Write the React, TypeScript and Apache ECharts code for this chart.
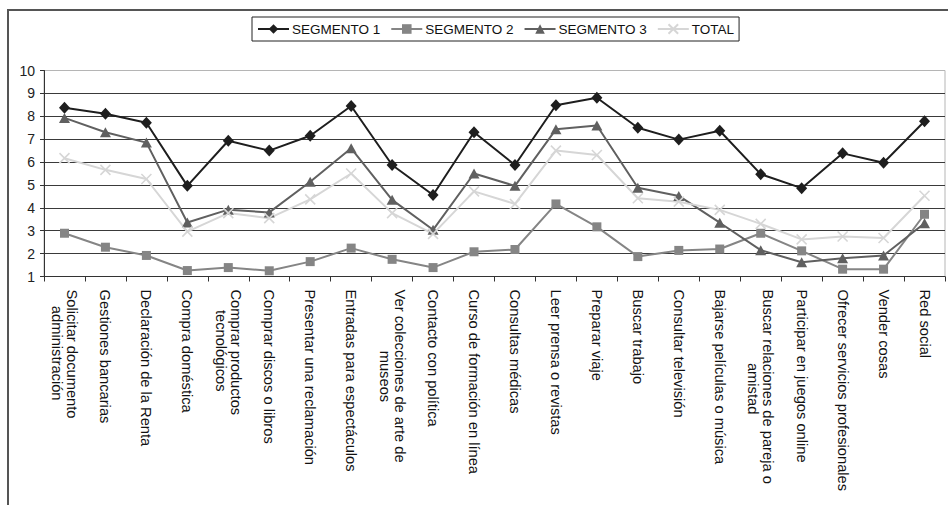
import React, { useEffect, useRef } from "react";
import * as echarts from "echarts";

// Online activities (x axis), one line per segment plus the overall total
const categories: string[] = [
  "Solicitar documento\nadministración",
  "Gestiones bancarias",
  "Declaración de la Renta",
  "Compra doméstica",
  "Comprar productos\ntecnológicos",
  "Comprar discos o libros",
  "Presentar una reclamación",
  "Entradas para espectáculos",
  "Ver colecciones de arte de\nmuseos",
  "Contacto con política",
  "Curso de formación en línea",
  "Consultas médicas",
  "Leer prensa o revistas",
  "Preparar viaje",
  "Buscar trabajo",
  "Consultar televisión",
  "Bajarse películas o música",
  "Buscar relaciones de pareja o\namistad",
  "Participar en juegos online",
  "Ofrecer servicios profesionales",
  "Vender cosas",
  "Red social",
];

const segmento1: number[] = [
  8.37, 8.11, 7.72, 4.96, 6.93, 6.5, 7.15, 8.45, 5.87, 4.56, 7.3, 5.87, 8.48,
  8.81, 7.5, 6.98, 7.37, 5.47, 4.86, 6.38, 5.97, 7.78,
];
const segmento2: number[] = [
  2.89, 2.28, 1.92, 1.26, 1.39, 1.25, 1.65, 2.24, 1.75, 1.39, 2.08, 2.18, 4.17,
  3.17, 1.87, 2.14, 2.2, 2.89, 2.12, 1.32, 1.32, 3.72,
];
const segmento3: number[] = [
  7.93, 7.3, 6.85, 3.36, 3.92, 3.8, 5.14, 6.6, 4.35, 3.04, 5.5, 4.96, 7.43,
  7.6, 4.88, 4.52, 3.35, 2.15, 1.62, 1.8, 1.92, 3.33,
];
const total: number[] = [
  6.17, 5.66, 5.26, 2.96, 3.77, 3.55, 4.37, 5.5, 3.77, 2.86, 4.72, 4.17, 6.5,
  6.31, 4.42, 4.27, 3.91, 3.3, 2.62, 2.75, 2.68, 4.53,
];

const seriesNames: string[] = ["SEGMENTO 1", "SEGMENTO 2", "SEGMENTO 3", "TOTAL"];

const FONT = "'Liberation Sans', Arial, sans-serif";
const LABEL_SIZE = 14.7;
const CROSS = "path://M0,0L10,10M10,0L0,10";

// Wrapped category labels: each line is centred inside the label block by
// indenting the shorter lines with non-breaking spaces (widths measured).
function centredLabels(): string[] {
  const ctx = document.createElement("canvas").getContext("2d");
  if (!ctx) return categories;
  ctx.font = `${LABEL_SIZE}px 'Liberation Sans', Arial, sans-serif`;
  const nb = "\u00a0";
  const spaceW = ctx.measureText(nb).width || LABEL_SIZE * 0.278;
  return categories.map((cat) => {
    const lines = cat.split("\n");
    if (lines.length === 1) return cat;
    const widths = lines.map((l) => ctx.measureText(l).width);
    const maxW = Math.max(...widths);
    return lines
      .map((l, j) => nb.repeat(Math.round((maxW - widths[j]) / 2 / spaceW)) + l)
      .join("\n");
  });
}

export default function App() {
  const ref = useRef<HTMLDivElement>(null);

  useEffect(() => {
    if (!ref.current) return;
    const chart = echarts.init(ref.current, undefined, { renderer: "svg" });
    const labelText = centredLabels();

    const lineSeries = (
      name: string,
      data: number[],
      color: string,
      symbol: string,
      symbolSize: number | number[],
      stroked = false
    ) => ({
      name,
      type: "line",
      data,
      symbol,
      symbolSize,
      showAllSymbol: true,
      lineStyle: { color, width: 2 },
      itemStyle: stroked
        ? { color, borderColor: color, borderWidth: 1.6 }
        : { color, borderWidth: 0 },
      emphasis: { disabled: true },
    });

    chart.setOption({
      animation: false,
      backgroundColor: "#ffffff",
      textStyle: { fontFamily: FONT },
      graphic: [
        {
          type: "rect",
          shape: { x: 8, y: 10, width: 1200, height: 800 },
          style: { fill: "none", stroke: "#555555", lineWidth: 2 },
          silent: true,
          z: -1,
        },
      ],
      legend: {
        data: seriesNames,
        left: 252,
        top: 17,
        orient: "horizontal",
        itemWidth: 31,
        itemHeight: 12,
        itemGap: 10,
        padding: [5, 5, 5, 5],
        borderColor: "#222222",
        borderWidth: 1,
        textStyle: { fontSize: 13.5, color: "#111111", fontFamily: FONT, padding: [0, 0, 0, -2] },
      },
      grid: {
        left: 44,
        right: 3,
        top: 70.5,
        bottom: 228.5,
        show: true,
        borderColor: "#b5b5b5",
        borderWidth: 1,
        backgroundColor: "transparent",
      },
      xAxis: {
        type: "category",
        data: categories,
        boundaryGap: true,
        axisLine: { lineStyle: { color: "#333333", width: 1 } },
        axisTick: { show: true, interval: 0, length: 5, lineStyle: { color: "#333333" } },
        splitLine: { show: false },
        axisLabel: {
          interval: 0,
          rotate: -90,
          margin: 13,
          color: "#111111",
          fontSize: LABEL_SIZE,
          lineHeight: 15,
          fontFamily: FONT,
          formatter: (_value: string, index: number) => labelText[index],
        },
      },
      yAxis: {
        type: "value",
        min: 1,
        max: 10,
        interval: 1,
        axisLine: { show: true, lineStyle: { color: "#333333", width: 1 } },
        axisTick: { show: true, length: 4, lineStyle: { color: "#333333" } },
        axisLabel: { fontSize: 14, color: "#222222", margin: 9, fontFamily: FONT },
        splitLine: {
          show: true,
          showMinLine: false,
          showMaxLine: false,
          lineStyle: { color: "#3a3a3a", width: 1 },
        },
      },
      series: [
        lineSeries(seriesNames[0], segmento1, "#1e1e1e", "diamond", [11, 12]),
        lineSeries(seriesNames[1], segmento2, "#858585", "rect", 9),
        lineSeries(seriesNames[2], segmento3, "#606060", "triangle", [11, 10]),
        lineSeries(seriesNames[3], total, "#d6d6d6", CROSS, 10, true),
      ],
    });

    return () => chart.dispose();
  }, []);

  return (
    <div
      ref={ref}
      style={{ position: "absolute", left: 0, top: 0, width: 948, height: 505 }}
    />
  );
}
